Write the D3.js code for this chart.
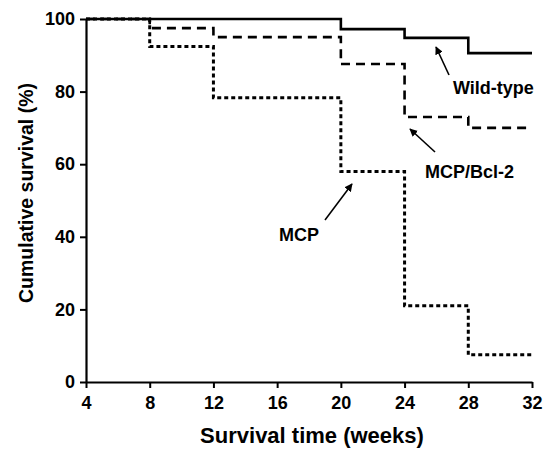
<!DOCTYPE html>
<html>
<head>
<meta charset="utf-8">
<script src="https://cdn.jsdelivr.net/npm/d3@7"></script>
<style>
  body { margin: 0; background: #fff; }
  text { font-family: "Liberation Sans", Arial, sans-serif; font-weight: bold; fill: #000; }
</style>
</head>
<body>
<div id="chart"></div>
<script>
// step data (week at which value starts)
var wildWeeks = [4, 20, 24, 28, 32];
var wildVals  = [100, 97.2, 94.8, 90.6, 90.6];
var bclWeeks  = [4, 8, 12, 20, 24, 28, 32];
var bclVals   = [100, 97.5, 95, 87.6, 73, 70, 70];
var mcpWeeks  = [4, 8, 12, 20, 24, 28, 32];
var mcpVals   = [100, 92.4, 78.3, 58, 21, 7.5, 7.5];
var xTicks = [4, 8, 12, 16, 20, 24, 28, 32];
var yTicks = [0, 20, 40, 60, 80, 100];

var width = 545, height = 452;
var margin = {top: 19, right: 13, bottom: 70, left: 86};

var x = d3.scaleLinear().domain([4, 32]).range([margin.left, width - margin.right]);
var y = d3.scaleLinear().domain([0, 100]).range([height - margin.bottom, margin.top]);

var svg = d3.select("#chart").append("svg")
  .attr("width", width)
  .attr("height", height);

function toPts(weeks, vals){
  return weeks.map(function(w, i){ return [w, vals[i]]; });
}

var line = d3.line()
  .x(function(d){ return x(d[0]); })
  .y(function(d){ return y(d[1]); })
  .curve(d3.curveStepAfter);

var series = [
  {pts: toPts(mcpWeeks, mcpVals), dash: "4,3", w: 3},
  {pts: toPts(bclWeeks, bclVals), dash: "9,6", w: 2.6},
  {pts: toPts(wildWeeks, wildVals), dash: null, w: 2.6}
];

svg.selectAll(".km")
  .data(series)
  .enter().append("path")
  .attr("class", "km")
  .attr("d", function(d){ return line(d.pts); })
  .attr("fill", "none")
  .attr("stroke", "#000")
  .attr("stroke-width", function(d){ return d.w; })
  .attr("stroke-dasharray", function(d){ return d.dash; });

// axes
var xAxis = svg.append("g")
  .attr("transform", "translate(0," + y(0) + ")")
  .call(d3.axisBottom(x).tickValues(xTicks).tickSizeInner(6).tickSizeOuter(0).tickPadding(8));
var yAxis = svg.append("g")
  .attr("transform", "translate(" + x(4) + ",0)")
  .call(d3.axisLeft(y).tickValues(yTicks).tickSizeInner(6).tickSizeOuter(0).tickPadding(5));

[xAxis, yAxis].forEach(function(g){
  g.select(".domain").attr("stroke-width", 2.2);
  g.selectAll(".tick line").attr("stroke-width", 2);
  g.selectAll("text").style("font-size", "18px").attr("font-family", null).attr("fill", "#000");
});

// axis titles
svg.append("text")
  .attr("x", 312)
  .attr("y", 443)
  .attr("text-anchor", "middle")
  .style("font-size", "22px")
  .text("Survival time (weeks)");

svg.append("text")
  .attr("transform", "translate(33,193) rotate(-90)")
  .attr("text-anchor", "middle")
  .style("font-size", "19.5px")
  .text("Cumulative survival (%)");

// annotations
svg.append("defs").append("marker")
  .attr("id", "arr")
  .attr("viewBox", "0 0 10 10")
  .attr("refX", 9).attr("refY", 5)
  .attr("markerWidth", 5).attr("markerHeight", 5)
  .attr("orient", "auto")
  .append("path").attr("d", "M0,0L10,5L0,10z").attr("fill", "#000");

var notes = [
  {label: "Wild-type", tx: 453, ty: 94, from: [449, 75], to: [436, 47]},
  {label: "MCP/Bcl-2", tx: 425, ty: 178, from: [435, 152], to: [410, 129]},
  {label: "MCP", tx: 279, ty: 241, from: [325, 220], to: [352, 184]}
];

notes.forEach(function(n){
  svg.append("line")
    .attr("x1", n.from[0]).attr("y1", n.from[1])
    .attr("x2", n.to[0]).attr("y2", n.to[1])
    .attr("stroke", "#000").attr("stroke-width", 1.6)
    .attr("marker-end", "url(#arr)");
  svg.append("text")
    .attr("x", n.tx).attr("y", n.ty)
    .style("font-size", "18px")
    .text(n.label);
});
</script>
</body>
</html>
